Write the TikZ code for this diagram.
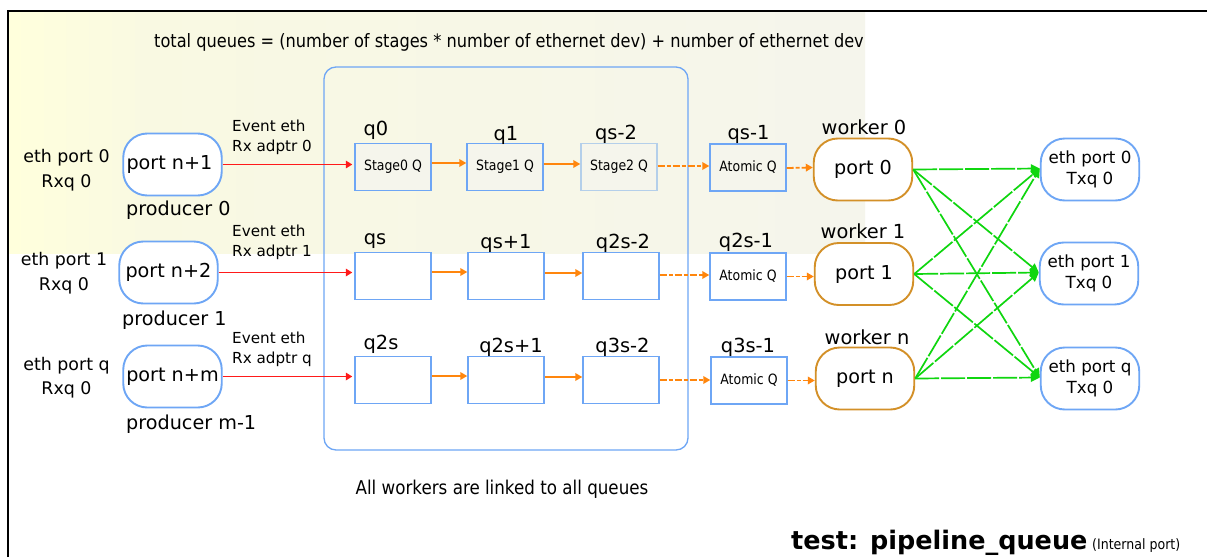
\documentclass[tikz,border=0pt]{standalone}
\usepackage{fontspec}
\setmainfont{DejaVu Sans}
\newfontfamily\condfont[FakeStretch=0.88]{DejaVu Sans}
\usetikzlibrary{arrows.meta}
\definecolor{qblue}{HTML}{6EA6F5}
\definecolor{qpale}{HTML}{B4CFEA}
\definecolor{wkorange}{HTML}{D39028}
\definecolor{arrorange}{HTML}{FF860D}
\definecolor{arrgreen}{HTML}{0FD60F}
\definecolor{arrred}{HTML}{FF1A1A}
\definecolor{bgleft}{HTML}{FFFFDC}
\definecolor{bgmid}{HTML}{F9F9E2}
\definecolor{bgright}{HTML}{F5F5EC}
\pgfdeclarehorizontalshading{bgshade}{100bp}{color(0bp)=(bgleft); color(25bp)=(bgleft); color(33bp)=(bgmid); color(75bp)=(bgright); color(100bp)=(bgright)}
\tikzset{
  x=1pt,y=-1pt,
  pill/.style={draw=#1,line width=1.9pt,fill=white,rounded corners=24pt,minimum width=98.5pt,minimum height=62pt,inner sep=0pt,align=center,font=\fontsize{19.2}{20}\selectfont},
  txpill/.style={pill=qblue,font=\fontsize{16.7}{21}\selectfont},
  qbox/.style={draw=qblue,line width=1.9pt,fill=white,minimum width=75.5pt,minimum height=47pt,inner sep=0pt,font=\condfont\fontsize{14.2}{16}\selectfont},
  qshade/.style={qbox,fill=bgright},
  lab/.style={inner sep=0pt,align=center,font=\fontsize{17.4}{24.5}\selectfont},
  prod/.style={inner sep=0pt,anchor=base west,font=\fontsize{19.2}{20}\selectfont},
  qlab/.style={inner sep=0pt,anchor=base,font=\fontsize{19.4}{20}\selectfont},
  small/.style={inner sep=0pt,align=left,anchor=north west,font=\fontsize{15.2}{20}\selectfont},
  redarr/.style={draw=arrred,line width=1.9pt,shorten >=2pt,-{Triangle[length=6.5pt,width=7.5pt]}},
  orarr/.style={draw=arrorange,line width=1.8pt,-{Triangle[length=7pt,width=7.5pt]}},
  ordash/.style={orarr,dash pattern=on 7pt off 2pt on 4pt off 2pt},
  grarr/.style={draw=arrgreen,line width=1.7pt,dash pattern=on 24pt off 2pt,-{Triangle[length=9pt,width=8.5pt]}},
}
\begin{document}
\begin{tikzpicture}
\useasboundingbox (0,0) rectangle (1207,557);
\fill[white] (0,0) rectangle (1207,557);
\shade[shading=bgshade] (9,12) rectangle (865,253);
\draw[black,line width=1.7pt] (7.7,557) -- (7.7,11) -- (1207,11);
\node[lab,font=\condfont\fontsize{18.4}{20}\selectfont] (title) at (509,42) {total queues = (number of stages * number of ethernet dev) + number of ethernet dev};
\node[draw=qblue,line width=1.3pt,rounded corners=12pt,minimum width=364pt,minimum height=383pt,inner sep=0pt] (big) at (506,258.5) {};

\node[lab] (rx0) at (66.5,170) {eth port 0\\Rxq 0};
\node[lab] (rx1) at (64,273) {eth port 1\\Rxq 0};
\node[lab] (rxq) at (66.5,377.5) {eth port q\\Rxq 0};
\node[pill=qblue] (pa) at (172.5,164.5) {\kern-6pt port n+1};
\node[pill=qblue] (pb) at (168.5,272.5) {port n+2};
\node[pill=qblue] (pc) at (172.5,376.5) {port n+m};
\node[prod] (pra) at (126,215) {producer 0};
\node[prod] (prb) at (122,325) {producer 1};
\node[prod] (prc) at (126,429) {producer m-1};

\node[small] (eva) at (232,120) {Event eth\\Rx adptr 0};
\node[small] (evb) at (232,225) {Event eth\\Rx adptr 1};
\node[small] (evc) at (232,332) {Event eth\\Rx adptr q};

\node[qshade] (a0) at (393,167) {Stage0 Q};
\node[qshade] (a1) at (505,167) {Stage1 Q};
\node[qshade,draw=qpale] (a2) at (619,167) {Stage2 Q};
\node[qshade] (a3) at (748,167.5) {Atomic Q};
\node[qbox] (b0) at (393,276) {};
\node[qbox] (b1) at (506,276) {};
\node[qbox] (b2) at (621,276) {};
\node[qbox] (b3) at (748,276.5) {Atomic Q};
\node[qbox] (c0) at (393,380) {};
\node[qbox] (c1) at (506,380) {};
\node[qbox] (c2) at (621,380) {};
\node[qbox] (c3) at (749,380.5) {Atomic Q};

\node[qlab] (la0) at (376,135) {q0};
\node[qlab] (la1) at (506,140) {q1};
\node[qlab] (la2) at (616,139) {qs-2};
\node[qlab] (la3) at (748.5,139) {qs-1};
\node[qlab] (lb0) at (375,244) {qs};
\node[qlab] (lb1) at (506,248) {qs+1};
\node[qlab] (lb2) at (623,248) {q2s-2};
\node[qlab] (lb3) at (746,247) {q2s-1};
\node[qlab] (lc0) at (381,349) {q2s};
\node[qlab] (lc1) at (511,352) {q2s+1};
\node[qlab] (lc2) at (622.5,352) {q3s-2};
\node[qlab] (lc3) at (748,352) {q3s-1};

\node[pill=wkorange] (wa) at (863,169.5) {port 0};
\node[pill=wkorange] (wb) at (864,274) {port 1};
\node[pill=wkorange] (wc) at (865,378.5) {port n};
\node[qlab] (lwa) at (864,134) {worker 0};
\node[qlab] (lwb) at (863,238) {worker 1};
\node[qlab] (lwc) at (867,344) {worker n};

\node[txpill] (ta) at (1090,169.5) {eth port 0\\Txq 0};
\node[txpill] (tb) at (1089,273.5) {eth port 1\\Txq 0};
\node[txpill] (tc) at (1090,378.5) {eth port q\\Txq 0};

\draw[redarr] (pa.east) -- (pa.east -| a0.west);
\draw[redarr] (pb.east) -- (pb.east -| b0.west);
\draw[redarr] (pc.east) -- (pc.east -| c0.west);

\draw[orarr] ([yshift=4pt]a0.east) -- ([yshift=4pt]a1.west);
\draw[orarr] ([yshift=3pt]a1.east) -- ([yshift=3pt]a2.west);
\draw[ordash] ([yshift=1pt]a2.east) -- ([yshift=1.5pt]a3.west);
\draw[ordash] ([yshift=-.5pt]a3.east) -- (wa.west |- a3.east);
\draw[orarr] ([yshift=4pt]b0.east) -- ([yshift=4pt]b1.west);
\draw[orarr] ([yshift=3pt]b1.east) -- ([yshift=3pt]b2.west);
\draw[ordash] ([yshift=1pt]b2.east) -- ([yshift=1.5pt]b3.west);
\draw[ordash] (b3.east) -- (wb.west |- b3.east);
\draw[orarr] ([yshift=4pt]c0.east) -- ([yshift=4pt]c1.west);
\draw[orarr] ([yshift=3pt]c1.east) -- ([yshift=3pt]c2.west);
\draw[ordash] (c2.east) -- ([yshift=.5pt]c3.west);
\draw[ordash] (c3.east) -- (wc.west |- c3.east);
\foreach \s in {wa,wb,wc}{
  \foreach \t in {ta,tb,tc}{
    \draw[grarr] (\s.east) -- ([yshift=1pt]\t.west);
  }
}
\node[lab,font=\condfont\fontsize{19}{20}\selectfont] (note) at (502,489) {All workers are linked to all queues};
\node[inner sep=0pt,anchor=base west,font=\bfseries\fontsize{25.5}{28}\selectfont] (ttl) at (791,549) {test: pipeline\_queue};
\node[inner sep=0pt,anchor=base west,font=\condfont\fontsize{14.3}{16}\selectfont] (sub) at (1092,549) {(Internal port)};
\end{tikzpicture}
\end{document}
